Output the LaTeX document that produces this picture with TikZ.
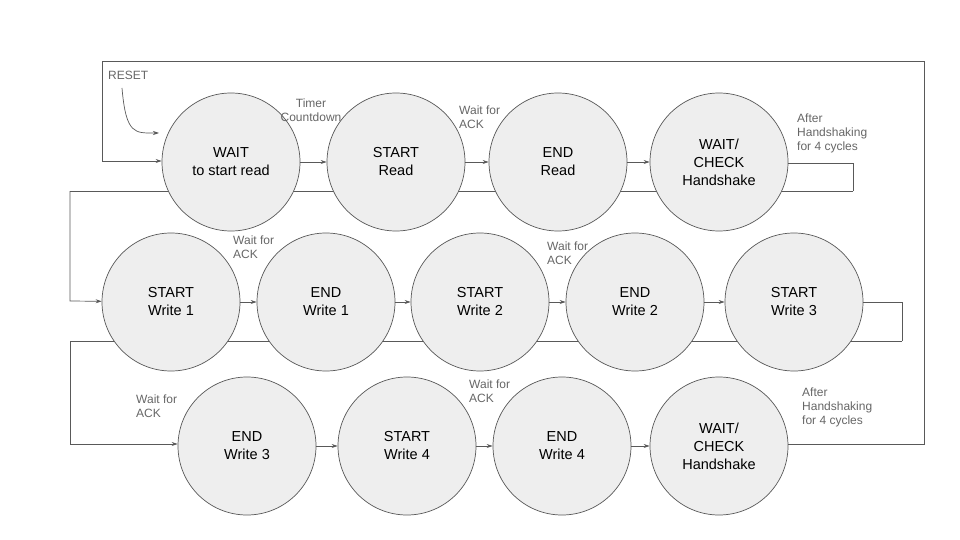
\documentclass[tikz,border=0pt]{standalone}
\usepackage{fontspec}
\setmainfont{Liberation Sans}
\usetikzlibrary{arrows.meta}
\definecolor{linegray}{HTML}{595959}
\definecolor{fillgray}{HTML}{EEEEEE}
\definecolor{labelgray}{HTML}{666666}
\begin{document}
\begin{tikzpicture}[x=1pt,y=-1pt,
  state/.style={circle, draw=linegray, fill=fillgray, line width=0.7pt, minimum size=138pt, inner sep=0pt, align=center, font=\fontsize{14.5}{18}\selectfont},
  lbl/.style={text=labelgray, font=\fontsize{12}{14}\selectfont, align=left, inner sep=0pt, anchor=west},
  conn/.style={draw=linegray, line width=0.7pt, -{Stealth[length=6pt,width=4pt]}},
  wire/.style={draw=linegray, line width=0.7pt}]
\useasboundingbox (0,0) rectangle (960,540);
% wires behind circles
\coordinate (loopA) at (853,163);
\coordinate (loopB) at (853,191);
\coordinate (loopC) at (70,191);
\coordinate (loopD) at (70,301);
\coordinate (loopE) at (902,302);
\coordinate (loopF) at (902,341);
\coordinate (loopG) at (70,341);
\coordinate (loopH) at (70,444);
\coordinate (fbA) at (924,444);
\coordinate (fbB) at (924,61);
\coordinate (fbC) at (102,61);
\coordinate (fbD) at (102,161);
\coordinate (resetstart) at (122,88);
\coordinate (resetend) at (159,133);
\draw[wire] (loopB) -- (loopC);
\draw[wire] (loopF) -- (loopG);
% states
\node[state] (wait) at (231,162) {WAIT\\to start read};
\node[state] (sread) at (396,162) {START\\Read};
\node[state] (eread) at (558,162) {END\\Read};
\node[state] (chk1) at (719,162) {WAIT/\\CHECK\\Handshake};
\node[state] (sw1) at (171,302) {START\\Write 1};
\node[state] (ew1) at (326,302) {END\\Write 1};
\node[state] (sw2) at (480,302) {START\\Write 2};
\node[state] (ew2) at (635,302) {END\\Write 2};
\node[state] (sw3) at (794,302) {START\\Write 3};
\node[state] (ew3) at (247,446) {END\\Write 3};
\node[state] (sw4) at (407,446) {START\\Write 4};
\node[state] (ew4) at (562,446) {END\\Write 4};
\node[state] (chk2) at (719,446) {WAIT/\\CHECK\\Handshake};
% labels
\node[lbl] (reset) at (108,75) {RESET};
\node[text=labelgray, font=\fontsize{12}{14}\selectfont, align=center, inner sep=0pt] (l1) at (311,110) {Timer\\Countdown};
\node[lbl] (l2) at (459,117) {Wait for\\ACK};
\node[lbl] (l3) at (797,133) {After\\Handshaking\\for 4 cycles};
\node[lbl] (l4) at (233,247) {Wait for\\ACK};
\node[lbl] (l5) at (547,253) {Wait for\\ACK};
\node[lbl] (l6) at (136,406) {Wait for\\ACK};
\node[lbl] (l7) at (469,391) {Wait for\\ACK};
\node[lbl] (l8) at (802,407) {After\\Handshaking\\for 4 cycles};
% connectors
\draw[conn] (resetstart) .. controls (126,135) and (135,133) .. (resetend);
\draw[conn] (wait) -- (sread);
\draw[conn] (sread) -- (eread);
\draw[conn] (eread) -- (chk1);
\draw[wire] (chk1.east |- loopA) -- (loopA) -- (loopB);
\draw[conn] (loopC) -- (loopD) -- (sw1);
\draw[conn] (sw1) -- (ew1);
\draw[conn] (ew1) -- (sw2);
\draw[conn] (sw2) -- (ew2);
\draw[conn] (ew2) -- (sw3);
\draw[wire] (sw3) -- (loopE) -- (loopF);
\draw[conn] (loopG) -- (loopH) -- (ew3.west |- loopH);
\draw[conn] (ew3) -- (sw4);
\draw[conn] (sw4) -- (ew4);
\draw[conn] (ew4) -- (chk2);
\draw[conn] (chk2.east |- fbA) -- (fbA) -- (fbB) -- (fbC) -- (fbD) -- (wait.west |- fbD);
\end{tikzpicture}
\end{document}
